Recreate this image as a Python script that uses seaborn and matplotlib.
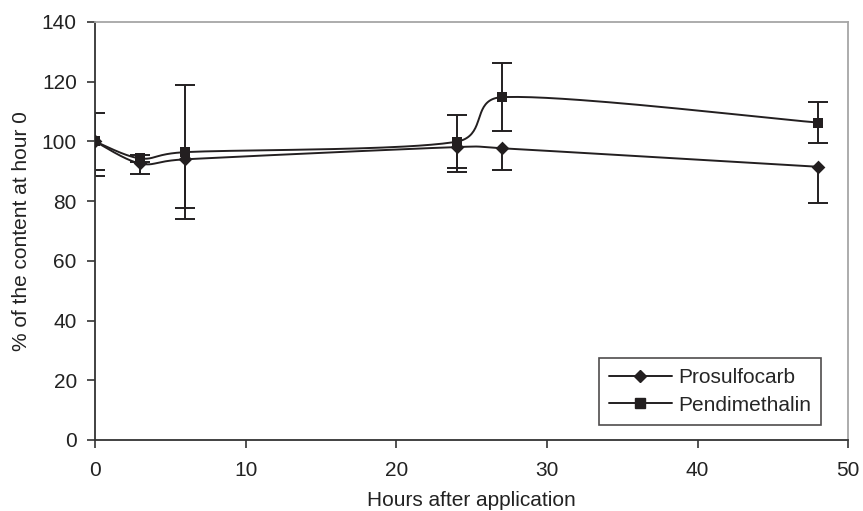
import numpy as np
import matplotlib.pyplot as plt
import seaborn as sns
from matplotlib.lines import Line2D

sns.set_theme(style="ticks")
plt.rcParams['font.family'] = ['Liberation Sans', 'DejaVu Sans']

# values
hours = [0, 3, 6, 24, 27, 48]
prosulfocarb = [100, 92.6, 94.0, 98.1, 97.7, 91.5]
prosulfocarb_err = [11.5, 3.4, 16.2, 8.4, 7.4, 12.2]   # drawn as minus bars only
pendimethalin = [100, 94.3, 96.4, 99.9, 114.8, 106.3]
pendimethalin_err = [9.6, 1.2, 22.4, 8.9, 11.4, 7.0]
series_names = ["Prosulfocarb", "Pendimethalin"]

ink = "#231f20"


def smooth_curve(ax, x, y, n=40):
    # Excel-style smoothed line: bezier through points, built in screen space
    pts = ax.transData.transform(np.column_stack([x, y]))
    p = np.vstack([pts[0], pts, pts[-1]])
    out = []
    for i in range(1, len(p) - 2):
        p0, p1, p2, p3 = p[i - 1], p[i], p[i + 1], p[i + 2]
        span = 0.7 * (p2[0] - p1[0])
        d1 = (p2 - p0) / 6
        d2 = (p3 - p1) / 6
        # keep control points inside the segment so the curve does not hook back
        if abs(d1[0]) > span:
            d1 = d1 * span / abs(d1[0])
        if abs(d2[0]) > span:
            d2 = d2 * span / abs(d2[0])
        c1 = p1 + d1
        c2 = p2 - d2
        t = np.linspace(0, 1, n)[:, None]
        seg = ((1 - t) ** 3) * p1 + 3 * ((1 - t) ** 2) * t * c1 \
            + 3 * (1 - t) * t ** 2 * c2 + t ** 3 * p2
        out.append(seg)
    out = np.vstack(out)
    return ax.transData.inverted().transform(out).T


fig = plt.figure(figsize=(8.63, 5.11), dpi=100)
ax = fig.add_axes([0.110, 0.139, 0.873, 0.818])
ax.set_xlim(0, 50)
ax.set_ylim(0, 140)

# error bars: pendimethalin both ways, prosulfocarb minus only
ax.errorbar(hours, pendimethalin, yerr=pendimethalin_err, fmt="none", ecolor=ink,
            elinewidth=1.4, capsize=7, capthick=1.4, zorder=2)
pros_low = np.array(prosulfocarb) - np.array(prosulfocarb_err)
ax.vlines(hours, pros_low, prosulfocarb, color=ink, lw=1.4, zorder=2)
ax.plot(hours, pros_low, ls="none", marker="_", ms=14, mew=1.4, color=ink, zorder=2)

markers = ["D", "s"]
sizes = [7, 7.5]
for vals, mk, ms in zip([prosulfocarb, pendimethalin], markers, sizes):
    sx, sy = smooth_curve(ax, hours, vals)
    ax.plot(sx, sy, color=ink, lw=1.4, zorder=3)
    sns.scatterplot(x=hours, y=vals, marker=mk, s=ms ** 2, color=ink,
                    edgecolor=ink, linewidth=0, ax=ax, zorder=4)

ax.set_xticks(np.arange(0, 51, 10))
ax.set_yticks(np.arange(0, 141, 20))
ax.tick_params(axis="both", labelsize=15, colors="#333333", labelcolor="#222222",
               length=6, width=1.2, direction="out")
ax.tick_params(axis="x", pad=9)
ax.tick_params(axis="y", pad=7)
ax.set_xlabel("Hours after application", fontsize=15, color="#222222", labelpad=8)
ax.set_ylabel("% of the content at hour 0", fontsize=15, color="#222222", labelpad=8)

for side in ["left", "bottom"]:
    ax.spines[side].set_color("#333333")
    ax.spines[side].set_linewidth(1.3)
for side in ["top", "right"]:
    ax.spines[side].set_visible(True)
    ax.spines[side].set_color("#a6a6a6")
    ax.spines[side].set_linewidth(1.3)

handles = [Line2D([], [], color=ink, lw=1.4, marker=m, markersize=s - 1,
                  markerfacecolor=ink, markeredgecolor=ink)
           for m, s in zip(markers, sizes)]
leg = ax.legend(handles, series_names, loc="lower right",
                bbox_to_anchor=(0.964, 0.036), borderaxespad=0,
                fontsize=15, frameon=True, fancybox=False, handlelength=3.0,
                handletextpad=0.3, labelspacing=0.4, borderpad=0.5)
leg.get_frame().set_edgecolor(ink)
leg.get_frame().set_linewidth(1.2)

fig.savefig("out.png", dpi=100)
